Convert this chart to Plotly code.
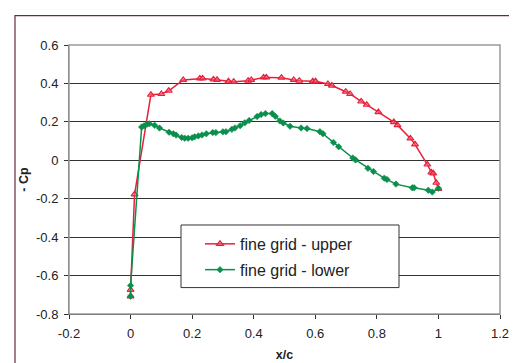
import plotly.graph_objects as go

upper_x = [0.0, 0.0, 0.013, 0.066, 0.100, 0.124, 0.171, 0.225, 0.234, 0.269, 0.281, 0.318, 0.335,
           0.382, 0.392, 0.432, 0.441, 0.490, 0.530, 0.548, 0.592, 0.601, 0.641, 0.654, 0.699,
           0.713, 0.749, 0.767, 0.805, 0.855, 0.867, 0.909, 0.924, 0.964, 0.977, 0.983, 0.993, 1.0]
upper_y = [-0.708, -0.674, -0.177, 0.341, 0.345, 0.362, 0.418, 0.426, 0.426, 0.421, 0.419, 0.411, 0.409,
           0.414, 0.418, 0.431, 0.431, 0.430, 0.418, 0.414, 0.411, 0.411, 0.397, 0.389, 0.357,
           0.345, 0.306, 0.289, 0.251, 0.199, 0.183, 0.114, 0.083, -0.022, -0.063, -0.068, -0.117, -0.149]

lower_x = [0.0, 0.0, 0.036, 0.044, 0.053, 0.061, 0.078, 0.094, 0.125, 0.139, 0.148, 0.166, 0.176,
           0.187, 0.200, 0.208, 0.220, 0.232, 0.246, 0.267, 0.277, 0.300, 0.310, 0.329, 0.339,
           0.356, 0.371, 0.385, 0.411, 0.424, 0.438, 0.460, 0.470, 0.485, 0.496, 0.518, 0.554,
           0.573, 0.615, 0.625, 0.659, 0.676, 0.722, 0.731, 0.771, 0.789, 0.824, 0.833, 0.862,
           0.915, 0.921, 0.967, 0.980, 1.0]
lower_y = [-0.708, -0.652, 0.173, 0.180, 0.187, 0.190, 0.182, 0.168, 0.146, 0.138, 0.131, 0.119, 0.115,
           0.115, 0.117, 0.122, 0.127, 0.132, 0.138, 0.144, 0.144, 0.148, 0.149, 0.161, 0.168,
           0.180, 0.195, 0.207, 0.228, 0.238, 0.243, 0.243, 0.229, 0.205, 0.194, 0.177, 0.168,
           0.165, 0.149, 0.138, 0.093, 0.070, 0.012, 0.002, -0.042, -0.058, -0.093, -0.100, -0.124,
           -0.143, -0.143, -0.156, -0.165, -0.146]

RED = "#e8203c"
GREEN = "#0a8f4c"

fig = go.Figure()
fig.add_trace(go.Scatter(
    x=upper_x, y=upper_y, mode="lines+markers", name="fine grid - upper", legendgroup="u",
    line=dict(color=RED, width=1.5),
    marker=dict(symbol="triangle-up", size=6, color="rgba(240,110,125,0.55)", line=dict(color=RED, width=1.2)),
))
fig.add_trace(go.Scatter(
    x=lower_x, y=lower_y, mode="lines+markers", name="fine grid - lower", legendgroup="l",
    line=dict(color=GREEN, width=1.5),
    marker=dict(symbol="diamond", size=5, color=GREEN, line=dict(color=GREEN, width=0.5)),
))

W, H = 517, 363
L, R, T, B = 61, 25, 37, 51
pw, ph = W - L - R, H - T - B

def px_to_paper_x(px):
    return (px - L) / pw

def px_to_paper_y(py):
    return (H - B - py) / ph

shapes = [
    dict(type="rect", xref="paper", yref="paper",
         x0=px_to_paper_x(7), x1=px_to_paper_x(530), y0=px_to_paper_y(380), y1=px_to_paper_y(7),
         line=dict(color="#6b2a3a", width=1.2), fillcolor="rgba(0,0,0,0)", layer="below"),
    dict(type="rect", xref="paper", yref="paper", x0=0, x1=1, y0=0, y1=1,
         line=dict(color="#9a9a9a", width=1.5), fillcolor="rgba(0,0,0,0)", layer="above"),
    dict(type="rect", xref="paper", yref="paper",
         x0=px_to_paper_x(173), x1=px_to_paper_x(391), y0=px_to_paper_y(285), y1=px_to_paper_y(221),
         line=dict(color="#333333", width=1), fillcolor="white", layer="above"),
]

fig.update_layout(
    width=W, height=H,
    margin=dict(l=L, r=R, t=T, b=B),
    paper_bgcolor="white", plot_bgcolor="white",
    font=dict(family="Liberation Sans, Arial, sans-serif", size=13, color="#222"),
    showlegend=True,
    legend=dict(x=px_to_paper_x(192), y=px_to_paper_y(223), xanchor="left", yanchor="top",
                bgcolor="rgba(0,0,0,0)", borderwidth=0, font=dict(size=16, color="#222"),
                tracegroupgap=2),
    shapes=shapes,
    xaxis=dict(range=[-0.2, 1.2], tickvals=[-0.2, 0, 0.2, 0.4, 0.6, 0.8, 1, 1.2],
               ticktext=["-0.2", "0", "0.2", "0.4", "0.6", "0.8", "1", "1.2"],
               showgrid=False, zeroline=False, showline=True, linecolor="#333", linewidth=1,
               ticks="outside", ticklen=4, tickcolor="#333", ticklabelstandoff=3,
               title=dict(text="<b>x/c</b>", font=dict(size=12.5, color="#222"), standoff=10)),
    yaxis=dict(range=[-0.8, 0.6], tickvals=[-0.8, -0.6, -0.4, -0.2, 0, 0.2, 0.4, 0.6],
               ticktext=["-0.8", "-0.6", "-0.4", "-0.2", "0", "0.2", "0.4", "0.6"],
               showgrid=True, gridcolor="#333", gridwidth=1, zeroline=False,
               showline=True, linecolor="#666", linewidth=1,
               ticks="outside", ticklen=4, tickcolor="#333", ticklabelstandoff=3,
               title=dict(text="<b>- Cp</b>", font=dict(size=12.5, color="#222"), standoff=4)),
)

fig.write_html("out.html")
